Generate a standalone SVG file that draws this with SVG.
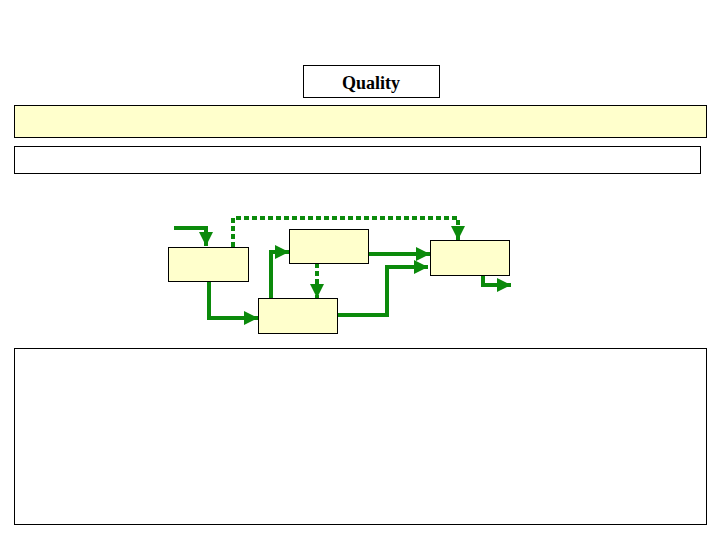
<svg xmlns="http://www.w3.org/2000/svg" width="720" height="540" viewBox="0 0 720 540">
<style>
.box{fill:#FFFFCC;stroke:#000;stroke-width:1}
.plain{fill:#fff;stroke:#000;stroke-width:1}
.c{fill:none;stroke:#0B8A0B;stroke-width:4}
.d{fill:none;stroke:#0B8A0B;stroke-width:4;stroke-dasharray:5 3}
.t{font-family:"Liberation Serif",serif;font-weight:bold;font-size:18px;text-anchor:middle}
</style>
<defs>
<marker id="ah" markerUnits="userSpaceOnUse" markerWidth="16" markerHeight="16" refX="14" refY="7" orient="auto">
<path d="M0,0 L14,7 L0,14 Z" fill="#0B8A0B"/>
</marker>
</defs>
<rect width="720" height="540" fill="#fff"/>
<g id="title"><rect class="plain" x="303.5" y="65.5" width="136" height="32"/><text class="t" x="371" y="89">Quality</text></g>
<g id="bar1"><rect class="box" x="14.5" y="105.5" width="692" height="32"/></g>
<g id="bar2"><rect class="plain" x="14.5" y="146.5" width="686" height="27"/></g>
<g id="bottom"><rect class="plain" x="14.5" y="348.5" width="692" height="176"/></g>
<g id="connectors">
<path class="c" d="M174,228 H206 V246" marker-end="url(#ah)"/>
<path class="d" d="M233,247 V218 H458 V240" marker-end="url(#ah)"/>
<path class="c" d="M209,281 V318 H258" marker-end="url(#ah)"/>
<path class="c" d="M271,298 V252 H289" marker-end="url(#ah)"/>
<path class="d" d="M317,263 V298" marker-end="url(#ah)"/>
<path class="c" d="M368,254 H430" marker-end="url(#ah)"/>
<path class="c" d="M337,315 H387 V267 H428" marker-end="url(#ah)"/>
<path class="c" d="M483,275 V285 H511" marker-end="url(#ah)"/>
</g>
<g id="nodeA"><rect class="box" x="168.5" y="247.5" width="80" height="34"/></g>
<g id="nodeB"><rect class="box" x="289.5" y="229.5" width="79" height="34"/></g>
<g id="nodeC"><rect class="box" x="258.5" y="298.5" width="79" height="35"/></g>
<g id="nodeD"><rect class="box" x="430.5" y="240.5" width="79" height="35"/></g>
</svg>
